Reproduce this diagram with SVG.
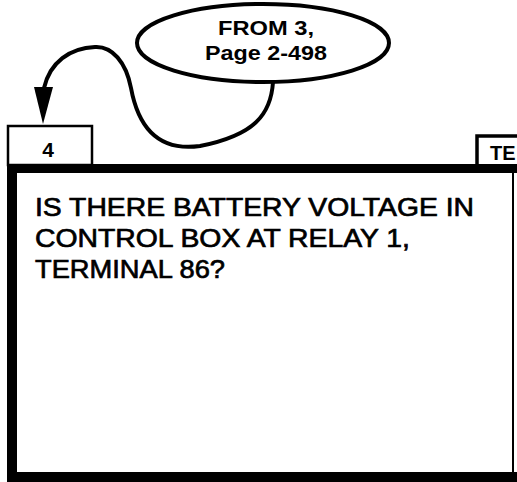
<svg xmlns="http://www.w3.org/2000/svg" width="517" height="482" viewBox="0 0 517 482">
<style>
  .t { font-family: "Liberation Sans", Arial, sans-serif; fill: #000; }
  .b { font-weight: bold; }
  .q { font-size: 26px; stroke: #000; stroke-width: 0.7; }
</style>
<rect width="517" height="482" fill="#fff"/>

<g id="from-ellipse">
  <ellipse cx="263" cy="43" rx="126" ry="39" fill="#fff" stroke="#000" stroke-width="4"/>
  <text class="t b" x="266" y="35" font-size="21" text-anchor="middle" textLength="96" lengthAdjust="spacingAndGlyphs">FROM 3,</text>
  <text class="t b" x="266" y="60" font-size="21" text-anchor="middle" textLength="122" lengthAdjust="spacingAndGlyphs">Page 2-498</text>
</g>

<g id="connectors">
  <path d="M273,82 C271,114 255,135 200,146 C150,153 136,115 131,88 C126,62 112,46 95,47 C70,48 50,62 44,88" fill="none" stroke="#000" stroke-width="4"/>
  <path d="M34,87 L53,87 L43,124 Z" fill="#000"/>
</g>

<g id="step-4">
  <rect x="8" y="126" width="84" height="39" fill="#fff" stroke="#000" stroke-width="2.5"/>
  <text class="t b" x="48" y="157" font-size="21" text-anchor="middle">4</text>
</g>

<g id="te-tab">
  <path d="M477,166 L477,136 L517,136" fill="none" stroke="#000" stroke-width="3.5"/>
  <text class="t b" x="490" y="160" font-size="20">TE</text>
</g>

<g id="question-box">
  <rect x="7" y="164" width="510" height="9" fill="#000"/>
  <rect x="7" y="164" width="10" height="318" fill="#000"/>
  <rect x="7" y="472" width="510" height="10" fill="#000"/>
  <rect x="512" y="173" width="2" height="300" fill="#000"/>
  <text class="t q" x="35" y="216" textLength="439" lengthAdjust="spacingAndGlyphs">IS THERE BATTERY VOLTAGE IN</text>
  <text class="t q" x="35" y="247" textLength="375" lengthAdjust="spacingAndGlyphs">CONTROL BOX AT RELAY 1,</text>
  <text class="t q" x="35" y="278" textLength="190" lengthAdjust="spacingAndGlyphs">TERMINAL 86?</text>
</g>
</svg>
